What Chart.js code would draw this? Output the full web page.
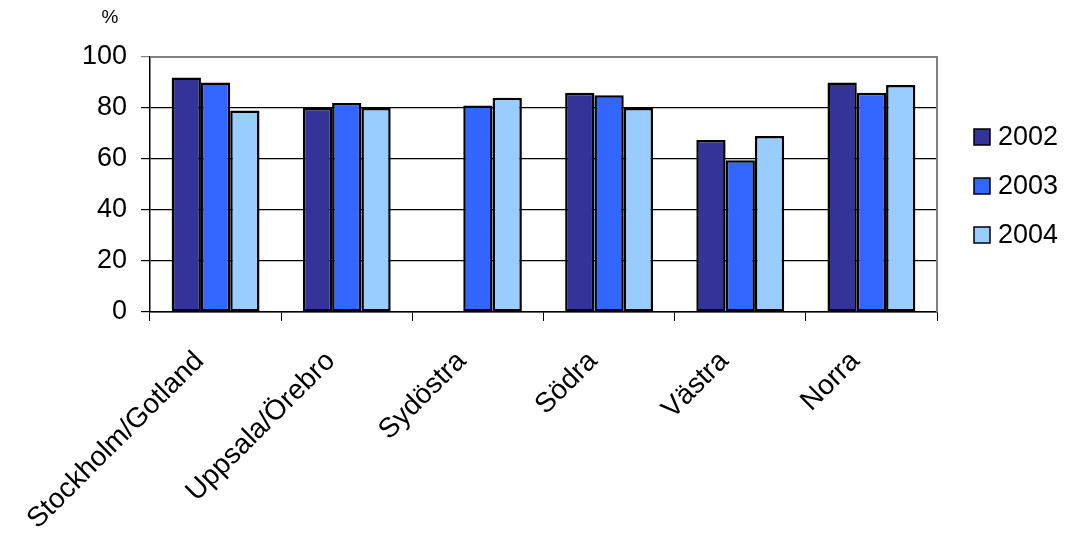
<!DOCTYPE html>
<html lang="sv">
<head>
    <meta charset="UTF-8">
    <title>Andel per region</title>
    <script src="https://cdn.jsdelivr.net/npm/chart.js"></script>
    <style>
        html, body { margin: 0; padding: 0; background: #fff; }
        .chart-box { width: 1067px; height: 539px; position: relative; }
    </style>
</head>
<body>
    <div class="chart-box">
        <canvas id="regionChart"></canvas>
    </div>

    <script>
        // regioner och andel (%) per år
        const regions = ['Stockholm/Gotland', 'Uppsala/Örebro', 'Sydöstra', 'Södra', 'Västra', 'Norra'];
        const years = ['2002', '2003', '2004'];
        const values2002 = [92, 80, null, 86, 67.5, 90];
        const values2003 = [90, 82, 81, 85, 59.5, 86];
        const values2004 = [79, 80, 84, 80, 69, 89];
        const yTicks = [0, 20, 40, 60, 80, 100];

        const colors = ['#333399', '#3366FF', '#99CCFF'];
        const FONT = '"Liberation Sans", Arial, sans-serif';

        // ram runt diagramytan, enhet och förklaring till höger
        const extras = {
            id: 'extras',
            afterDraw(chart) {
                const ctx = chart.ctx;
                const a = chart.chartArea;
                ctx.save();
                ctx.strokeStyle = '#808080';
                ctx.lineWidth = 2;
                ctx.beginPath();
                ctx.moveTo(a.left, a.top);
                ctx.lineTo(a.right, a.top);
                ctx.lineTo(a.right, a.bottom);
                ctx.stroke();

                ctx.fillStyle = '#000';
                ctx.font = '19px ' + FONT;
                ctx.textAlign = 'center';
                ctx.textBaseline = 'middle';
                ctx.fillText('%', 110, 18);

                ctx.font = '27px ' + FONT;
                ctx.textAlign = 'left';
                chart.data.datasets.forEach((ds, i) => {
                    const y = 137 + i * 49;
                    ctx.fillStyle = ds.backgroundColor;
                    ctx.fillRect(974, y - 8, 16, 16);
                    ctx.strokeStyle = '#000';
                    ctx.lineWidth = 1.5;
                    ctx.strokeRect(974, y - 8, 16, 16);
                    ctx.fillStyle = '#000';
                    ctx.fillText(ds.label, 998, y + 1);
                });
                ctx.restore();
            }
        };

        const datasets = [values2002, values2003, values2004].map((vals, i) => ({
            label: years[i],
            data: vals,
            backgroundColor: colors[i],
            borderColor: '#000',
            borderWidth: 2.5,
            borderSkipped: false,
            categoryPercentage: 0.67,
            barPercentage: 1.0
        }));

        new Chart(document.getElementById('regionChart'), {
            type: 'bar',
            data: { labels: regions, datasets: datasets },
            plugins: [extras],
            options: {
                responsive: true,
                maintainAspectRatio: false,
                animation: false,
                layout: { padding: { top: 57, right: 130, left: 0, bottom: 0 } },
                plugins: {
                    legend: { display: false },
                    tooltip: { enabled: false }
                },
                scales: {
                    x: {
                        offset: true,
                        grid: {
                            offset: true,
                            drawOnChartArea: false,
                            drawTicks: true,
                            tickLength: 9,
                            color: '#000'
                        },
                        border: { color: '#000', width: 1.5 },
                        ticks: {
                            autoSkip: false,
                            minRotation: 45,
                            maxRotation: 45,
                            padding: 24,
                            labelOffset: -16,
                            color: '#000',
                            font: { family: FONT, size: 28 }
                        },
                        afterFit(scale) { scale.height = 227; }
                    },
                    y: {
                        min: 0,
                        max: 100,
                        afterBuildTicks(scale) {
                            scale.ticks = yTicks.map(v => ({ value: v }));
                        },
                        grid: {
                            color: ctx => (ctx.tick && ctx.tick.value === 100 ? '#808080' : '#000'),
                            lineWidth: 1.2,
                            tickLength: 9
                        },
                        border: { color: '#000', width: 1.5 },
                        ticks: {
                            padding: 14,
                            color: '#000',
                            font: { family: FONT, size: 27 }
                        },
                        afterFit(scale) { scale.width = 150; }
                    }
                }
            }
        });
    </script>
</body>
</html>
